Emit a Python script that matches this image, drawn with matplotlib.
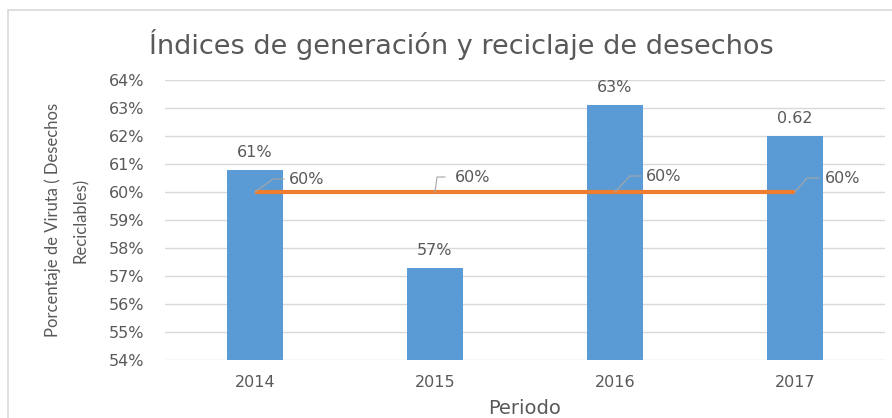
import matplotlib
matplotlib.use("Agg")
import matplotlib.pyplot as plt
from matplotlib.patches import Rectangle

# Data
years = ["2014", "2015", "2016", "2017"]
bar_values = [0.608, 0.573, 0.631, 0.620]
bar_labels = ["61%", "57%", "63%", "0.62"]
target_values = [0.60, 0.60, 0.60, 0.60]
target_labels = ["60%", "60%", "60%", "60%"]
yticks = [0.54, 0.55, 0.56, 0.57, 0.58, 0.59, 0.60, 0.61, 0.62, 0.63, 0.64]

plt.rcParams['font.family'] = ['DejaVu Sans']
TXT = '#595959'
BAR = '#5B9BD5'
LINE = '#ED7D31'
GRID = '#D9D9D9'

W, H = 892, 418
fig = plt.figure(figsize=(W / 100, H / 100), dpi=100)
ax = fig.add_axes([165 / W, 1 - 360 / H, (885 - 165) / W, 280 / H])

x = list(range(len(years)))
ax.bar(x, bar_values, width=0.31, color=BAR, zorder=2)
ax.plot(x, target_values, color=LINE, lw=3, zorder=3, solid_capstyle='butt')

ax.set_xlim(-0.5, len(years) - 0.5)
ax.set_ylim(yticks[0], yticks[-1])
ax.set_yticks(yticks)
ax.set_yticklabels([f"{round(v * 100)}%" for v in yticks])
ax.set_xticks(x)
ax.set_xticklabels(years)
ax.tick_params(axis='y', length=0, pad=15, labelsize=11.5, labelcolor=TXT)
ax.tick_params(axis='x', length=0, pad=11, labelsize=11.5, labelcolor=TXT)
ax.grid(axis='y', color=GRID, lw=1, zorder=0)
ax.set_axisbelow(True)
for s in ax.spines.values():
    s.set_visible(False)

# bar labels
for xi, v, lab in zip(x, bar_values, bar_labels):
    ax.annotate(lab, (xi, v), xytext=(0, 7), textcoords='offset points',
                ha='center', va='bottom', fontsize=11.5, color=TXT)

# target line labels with leader lines (offsets in pixels)
leaders = [((18, 13), (29, 13), 34),
           ((2, 15), (10, 15), 20),
           ((15, 16), (26, 16), 31),
           ((12, 14), (24, 14), 30)]
for xi, v, lab, (p1, p2, tx) in zip(x, target_values, target_labels, leaders):
    base = ax.transData.transform((xi, v))
    xs = [base[0], base[0] + p1[0], base[0] + p2[0]]
    ys = [base[1], base[1] + p1[1], base[1] + p2[1]]
    fig.add_artist(plt.Line2D([a / W for a in xs], [b / H for b in ys],
                              transform=fig.transFigure, color='#A6A6A6', lw=0.8, zorder=4))
    ax.annotate(lab, (xi, v), xytext=(tx * 0.72, p2[1] * 0.72),
                textcoords='offset points', ha='left', va='center',
                fontsize=11.5, color=TXT)

# titles and labels
fig.text(461 / W, 1 - 45 / H, "Índices de generación y reciclaje de desechos",
         ha='center', va='center', fontsize=19.5, color=TXT)
fig.text(67 / W, 1 - 220 / H, "Porcentaje de Viruta ( Desechos\nReciclables)",
         rotation=90, ha='center', va='center', multialignment='center',
         fontsize=12, color=TXT, linespacing=1.9, family=['Lato', 'DejaVu Sans'])
fig.text(525 / W, 1 - 408 / H, "Periodo", ha='center', va='center',
         fontsize=14, color=TXT)

# chart border
fig.add_artist(Rectangle((8 / W, -0.1), 1.2, (H - 10) / H + 0.1,
                         transform=fig.transFigure, fill=False,
                         edgecolor=GRID, lw=1.2))

fig.savefig("out.png", dpi=100)
